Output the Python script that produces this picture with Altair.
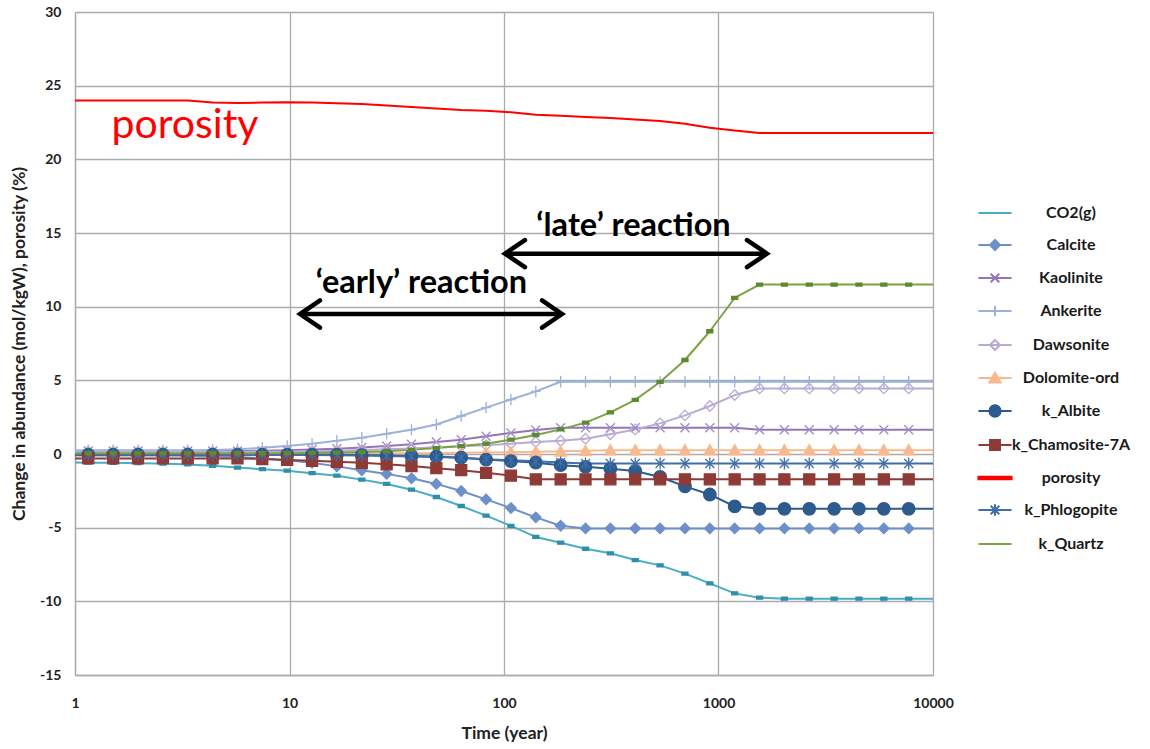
import altair as alt
import pandas as pd

# ---------------- data ----------------
times = [0.883, 1.153, 1.506, 1.967, 2.569, 3.354, 4.381, 5.721, 7.470, 9.754,
         12.74, 16.63, 21.73, 28.37, 37.04, 48.37, 63.17, 82.49, 107.7, 140.7,
         183.7, 239.9, 313.3, 409.1, 534.2, 697.6, 911.1, 1189.7, 1553.6, 2028.8,
         2649.3, 3459.4, 4517.6, 5899.4, 7703.7, 10060]

series_names = ["CO2(g)", "Calcite", "Kaolinite", "Ankerite", "Dawsonite", "Dolomite-ord",
                "k_Albite", "k_Chamosite-7A", "porosity", "k_Phlogopite", "k_Quartz"]

co2 = [-0.58, -0.59, -0.60, -0.62, -0.65, -0.71, -0.80, -0.92, -1.03, -1.13,
       -1.30, -1.47, -1.74, -2.03, -2.42, -2.92, -3.53, -4.18, -4.88, -5.63,
       -6.02, -6.43, -6.74, -7.20, -7.56, -8.12, -8.78, -9.46, -9.75] + [-9.82] * 7
calcite = [-0.10] * 5 + [-0.12, -0.15, -0.20, -0.30, -0.43, -0.60, -0.84, -1.10, -1.35,
                         -1.65, -2.03, -2.51, -3.08, -3.67, -4.30, -4.87] + [-5.05] * 15
kaolinite = [0.20] * 8 + [0.22, 0.26, 0.30, 0.36, 0.44, 0.54, 0.66, 0.81, 0.97, 1.20,
                          1.43, 1.63] + [1.78] * 8 + [1.65] * 8
ankerite = [0.25] * 6 + [0.28, 0.33, 0.42, 0.54, 0.70, 0.90, 1.10, 1.37, 1.64, 2.00,
                         2.58, 3.15, 3.70, 4.25] + [4.90] * 16
dawsonite = [0.15] * 10 + [0.18, 0.22, 0.27, 0.32, 0.38, 0.45, 0.52, 0.60, 0.70, 0.82,
                           0.90, 1.04, 1.34, 1.67, 2.08, 2.62, 3.26, 4.00] + [4.45] * 8
dolomite = [0.05] * 16 + [0.08, 0.10, 0.12, 0.15, 0.18, 0.22] + [0.26] * 14
albite = [-0.05] * 12 + [-0.07, -0.10, -0.13, -0.17, -0.25, -0.38, -0.48, -0.59, -0.76,
                         -0.87, -1.00, -1.15, -1.56, -2.20, -2.75, -3.55] + [-3.72] * 8
chamosite = [-0.30] * 8 + [-0.34, -0.40, -0.46, -0.53, -0.60, -0.70, -0.82, -0.96, -1.10,
                           -1.28, -1.47] + [-1.72] * 17
porosity = [24.0] * 6 + [23.85, 23.83, 23.85, 23.88, 23.85, 23.80, 23.75, 23.65, 23.55,
                         23.45, 23.35, 23.30, 23.20, 23.03, 22.95, 22.88, 22.80, 22.70,
                         22.60, 22.42, 22.15, 21.95] + [21.78] * 8
phlogopite = [-0.05] * 10 + [-0.07, -0.09, -0.11, -0.14, -0.17, -0.21, -0.26, -0.35,
                             -0.43, -0.50, -0.57] + [-0.64] * 15
quartz = [0.05] * 10 + [0.07, 0.10, 0.13, 0.18, 0.28, 0.40, 0.54, 0.70, 0.97, 1.29,
                        1.67, 2.13, 2.83, 3.67, 4.89, 6.38, 8.33, 10.59] + [11.5] * 8

values_by_series = {
    "CO2(g)": co2, "Calcite": calcite, "Kaolinite": kaolinite, "Ankerite": ankerite,
    "Dawsonite": dawsonite, "Dolomite-ord": dolomite, "k_Albite": albite,
    "k_Chamosite-7A": chamosite, "porosity": porosity, "k_Phlogopite": phlogopite,
    "k_Quartz": quartz,
}

# annotations
ann_text = ["porosity", "\u2018early\u2019 reaction", "\u2018late\u2019 reaction"]
ann_time = [1.48, 41.2, 401.6]
ann_value = [21.47, 10.95, 14.8]
arrow_start = [11.2, 101.0]
arrow_end = [186.4, 1683.0]
arrow_value = [9.5, 13.6]

# ---------------- styles ----------------
colors = ["#4BACC6", "#6D8FCA", "#9475B8", "#9BB2DB", "#B9ABD3", "#F8B98E",
          "#2D5B8E", "#8E3A36", "#FF0000", "#3F6EAA", "#7BA344"]
line_widths = [2, 2, 2, 2, 2, 2, 2.2, 2.2, 4.5, 2, 2]
DASH = "M-0.6,-0.3H0.6V0.3H-0.6Z"
DIAM = "M0,-1.05L1.05,0L0,1.05L-1.05,0Z"
XMARK = "M-0.9,-0.9L0.9,0.9M-0.9,0.9L0.9,-0.9"
PLUS = "M0,-1.15V1.15M-0.95,0H0.95"
TRI = "M0,-1.1L1.15,0.95L-1.15,0.95Z"
CIRC = "M1.25,0A1.25,1.25 0 1,1 -1.25,0A1.25,1.25 0 1,1 1.25,0Z"
SQR = "M-1.1,-1.1H1.1V1.1H-1.1Z"
STAR = "M-0.9,-0.9L0.9,0.9M-0.9,0.9L0.9,-0.9M0,-1.2V1.2"
NONE = "M0,0"
marker_paths = [DASH, DIAM, XMARK, PLUS, DIAM, TRI, CIRC, SQR, NONE, STAR, DASH]
marker_strokes = ["#2F8FA8", "#6D8FCA", "#A18CC6", "#9BB2DB", "#B9ABD3", "#F8B98E",
                  "#2D5B8E", "#8E3A36", "#FF0000", "#3F6EAA", "#5E8A2E"]
marker_fills = ["#2F8FA8", "#6D8FCA", "transparent", "transparent", "transparent", "#F8B98E",
                "#2D5B8E", "#8E3A36", "transparent", "transparent", "#5E8A2E"]

L = "M-1,0H1"
legend_paths = [
    L,
    L + "M0,-0.3L0.3,0L0,0.3L-0.3,0Z",
    L + "M-0.26,-0.26L0.26,0.26M-0.26,0.26L0.26,-0.26",
    L + "M0,-0.32V0.32",
    L + "M0,-0.3L0.3,0L0,0.3L-0.3,0Z",
    L + "M0,-0.32L0.34,0.27L-0.34,0.27Z",
    L + "M0.34,0A0.34,0.34 0 1,1 -0.34,0A0.34,0.34 0 1,1 0.34,0Z",
    L + "M-0.3,-0.3H0.3V0.3H-0.3Z",
    "M-1,-0.08H1V0.08H-1Z",
    L + "M-0.26,-0.26L0.26,0.26M-0.26,0.26L0.26,-0.26M0,-0.34V0.34",
    L,
]
legend_fills = ["#4BACC6", "#6D8FCA", "white", "white", "white", "#F8B98E",
                "#2D5B8E", "#8E3A36", "#FF0000", "white", "#7BA344"]
legend_strokes = colors

FONT = "Lato"
GRID = "#ABABAB"

# ---------------- tables ----------------
rows = []
for name in series_names:
    vals = values_by_series[name]
    for i, (t, v) in enumerate(zip(times, vals)):
        rows.append({"time": t, "value": v, "series": name,
                     "marker": (0 < i < len(times) - 1) and name != "porosity"})
df = pd.DataFrame(rows)

legend_df = pd.DataFrame({"series": series_names, "time": [0.3] * len(series_names),
                          "value": [0.0] * len(series_names)})
ann_df = pd.DataFrame({"text": ann_text, "time": ann_time, "value": ann_value})
arrow_df = pd.DataFrame({"time": arrow_start, "time2": arrow_end, "value": arrow_value})
head_l = pd.DataFrame({"time": arrow_start, "value": arrow_value})
head_r = pd.DataFrame({"time": arrow_end, "value": arrow_value})

x_enc = alt.X("time:Q",
              scale=alt.Scale(type="log", domain=[1, 10000]),
              axis=alt.Axis(values=[1, 10, 100, 1000, 10000], format="d",
                            title="Time (year)", grid=True, gridColor=GRID, gridWidth=1.3,
                            domainColor=GRID, domainWidth=1.3, ticks=False, tickSize=0,
                            labelFont=FONT, labelFontSize=14, labelFontWeight="bold",
                            labelColor="#222222", labelPadding=21, labelFlush=False,
                            labelOverlap=False, titleFont=FONT, titleFontSize=17.5,
                            titleFontWeight="bold", titleColor="#222222",
                            titleX=429, titleY=58, titleBaseline="middle",
                            titleAlign="center"))
y_enc = alt.Y("value:Q",
              scale=alt.Scale(domain=[-15, 30], nice=False, zero=False),
              axis=alt.Axis(values=[-15, -10, -5, 0, 5, 10, 15, 20, 25, 30],
                            labelExpr="'' + datum.value",
                            title="Change in abundance (mol/kgW), porosity (%)",
                            grid=True, gridColor=GRID, gridWidth=1.3,
                            domainColor=GRID, domainWidth=1.3, ticks=False, tickSize=0,
                            labelFont=FONT, labelFontSize=14, labelFontWeight="bold",
                            labelColor="#222222", labelPadding=14, labelFlush=False,
                            labelOverlap=False, titleFont=FONT, titleFontSize=17.5,
                            titleFontWeight="bold", titleColor="#222222",
                            titleX=-56, titleY=331.5, titleAngle=270,
                            titleBaseline="middle", titleAlign="center"))

lines = alt.Chart(df).mark_line(clip=True, strokeJoin="round").encode(
    x=x_enc, y=y_enc,
    color=alt.Color("series:N", scale=alt.Scale(domain=series_names, range=colors), legend=None),
    strokeWidth=alt.StrokeWidth("series:N",
                                scale=alt.Scale(domain=series_names, range=line_widths),
                                legend=None),
    order=alt.Order("time:Q"),
)

points = alt.Chart(df).transform_filter("datum.marker").mark_point(
    clip=True, filled=False, opacity=1, size=100, strokeWidth=1.3
).encode(
    x=x_enc, y=y_enc,
    shape=alt.Shape("series:N", scale=alt.Scale(domain=series_names, range=marker_paths),
                    legend=None),
    fill=alt.Fill("series:N", scale=alt.Scale(domain=series_names, range=marker_fills),
                  legend=None),
    stroke=alt.Stroke("series:N", scale=alt.Scale(domain=series_names, range=marker_strokes),
                      legend=None),
)

leg = alt.Legend(title=None, orient="none", legendX=902, legendY=183, symbolSize=1100,
                 symbolStrokeWidth=2, symbolOpacity=1, labelFont=FONT, labelFontSize=16,
                 labelFontWeight="bold", labelColor="#1A1A1A", labelOffset=58,
                 labelAlign="center", rowPadding=6, padding=0, labelLimit=300)

legend_layer = alt.Chart(legend_df).mark_point(
    clip=True, filled=False, opacity=1, size=1100, strokeWidth=2
).encode(
    x=x_enc, y=y_enc,
    shape=alt.Shape("series:N", scale=alt.Scale(domain=series_names, range=legend_paths),
                    legend=leg),
    fill=alt.Fill("series:N", scale=alt.Scale(domain=series_names, range=legend_fills),
                  legend=leg),
    stroke=alt.Stroke("series:N", scale=alt.Scale(domain=series_names, range=legend_strokes),
                      legend=leg),
)

por_text = alt.Chart(ann_df.iloc[[0]]).mark_text(
    align="left", baseline="alphabetic", font=FONT, fontSize=41, color="#FF0000"
).encode(x=x_enc, y=y_enc, text="text:N")

react_text = alt.Chart(ann_df.iloc[[1, 2]]).mark_text(
    align="center", baseline="alphabetic", font=FONT, fontSize=32.5, fontWeight="bold",
    color="#000000"
).encode(x=x_enc, y=y_enc, text="text:N")

arrows = alt.Chart(arrow_df).mark_rule(color="#000000", strokeWidth=4.5).encode(
    x=x_enc, x2="time2:Q", y=y_enc)

heads_left = alt.Chart(head_l).mark_point(
    shape="M1,-0.68L0,0L1,0.68", size=1600, filled=False, opacity=1, color="#000000",
    strokeWidth=4.5, strokeCap="round", strokeJoin="miter"
).encode(x=x_enc, y=y_enc)
heads_right = alt.Chart(head_r).mark_point(
    shape="M-1,-0.68L0,0L-1,0.68", size=1600, filled=False, opacity=1, color="#000000",
    strokeWidth=4.5, strokeCap="round", strokeJoin="miter"
).encode(x=x_enc, y=y_enc)

chart = alt.layer(
    lines, points, legend_layer, por_text, react_text, arrows, heads_left, heads_right
).resolve_scale(
    color="independent", strokeWidth="independent", shape="independent",
    fill="independent", stroke="independent"
).properties(
    width=858, height=663,
    autosize=alt.AutoSizeParams(type="none"),
    padding={"left": 75, "top": 12, "right": 217, "bottom": 74},
    background="white",
).configure_view(stroke=None)

chart.save("out.html", embed_options={"renderer": "svg", "actions": False})
